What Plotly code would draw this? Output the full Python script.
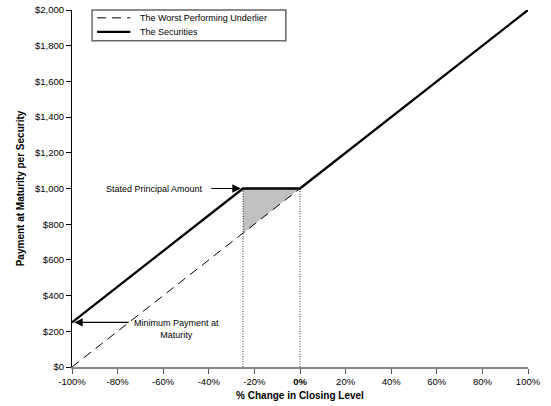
import plotly.graph_objects as go

# payoff diagram data
underlier_x = [-100, 100]
underlier_y = [0, 2000]
securities_x = [-100, -25, 0, 100]
securities_y = [250, 1000, 1000, 2000]
shade_x = [-25, 0, -25, -25]
shade_y = [1000, 1000, 750, 1000]
barrier_x = [-25, 0]
x_ticks = [-100, -80, -60, -40, -20, 0, 20, 40, 60, 80, 100]
x_labels = ["-100%", "-80%", "-60%", "-40%", "-20%", "<b>0%</b>", "20%", "40%", "60%", "80%", "100%"]
y_ticks = [0, 200, 400, 600, 800, 1000, 1200, 1400, 1600, 1800, 2000]
y_labels = ["$" + format(v, ",") for v in y_ticks]
legend_names = ["The Worst Performing Underlier", "The Securities"]

font = "Liberation Sans, Arial, sans-serif"

fig = go.Figure()

fig.add_trace(go.Scatter(x=shade_x, y=shade_y, fill="toself", fillcolor="#c0c0c0",
                         line=dict(width=0), mode="lines", hoverinfo="skip"))

for bx in barrier_x:
    fig.add_trace(go.Scatter(x=[bx, bx], y=[0, 1000], mode="lines",
                             line=dict(color="black", width=0.8, dash="1px,1.5px"),
                             hoverinfo="skip"))

fig.add_trace(go.Scatter(x=underlier_x, y=underlier_y, mode="lines",
                         name=legend_names[0],
                         line=dict(color="black", width=1, dash="9px,6px")))
fig.add_trace(go.Scatter(x=securities_x, y=securities_y, mode="lines",
                         name=legend_names[1],
                         line=dict(color="black", width=2.3)))

# hand-drawn legend box
fig.add_shape(type="rect", xref="paper", yref="paper", x0=0.044, x1=0.469, y0=0.914, y1=1.0,
              line=dict(color="#666666", width=1.5), fillcolor="white", layer="above")
fig.add_shape(type="line", xref="paper", yref="paper", x0=0.055, x1=0.128, y0=0.978, y1=0.978,
              line=dict(color="black", width=1, dash="9px,6px"))
fig.add_shape(type="line", xref="paper", yref="paper", x0=0.055, x1=0.128, y0=0.939, y1=0.939,
              line=dict(color="black", width=2.3))
fig.add_annotation(xref="paper", yref="paper", x=0.145, y=0.978, text=legend_names[0],
                   showarrow=False, xanchor="left", yanchor="middle", font=dict(size=9))
fig.add_annotation(xref="paper", yref="paper", x=0.145, y=0.939, text=legend_names[1],
                   showarrow=False, xanchor="left", yanchor="middle", font=dict(size=9))

# annotations
fig.add_annotation(x=-41.5, y=1000, text="Stated Principal Amount", showarrow=False,
                   xanchor="right", yanchor="middle", font=dict(size=9, color="black"))
fig.add_annotation(x=-26, y=1000, ax=-39.5, ay=1000, axref="x", ayref="y",
                   text="", showarrow=True, arrowhead=2, arrowsize=1.4, arrowwidth=1.2,
                   arrowcolor="black")
fig.add_annotation(x=-54, y=285, text="Minimum Payment at<br>Maturity", showarrow=False,
                   xanchor="center", yanchor="top", font=dict(size=9, color="black"))
fig.add_annotation(x=-99, y=250, ax=-74.5, ay=250, axref="x", ayref="y",
                   text="", showarrow=True, arrowhead=2, arrowsize=1.4, arrowwidth=1.2,
                   arrowcolor="black")

fig.update_layout(
    width=551, height=406,
    margin=dict(l=72, r=23, t=10, b=39),
    plot_bgcolor="white", paper_bgcolor="white",
    showlegend=False,
    font=dict(family=font, size=9.5, color="black"),
    xaxis=dict(range=[-100, 100], tickvals=x_ticks, ticktext=x_labels, automargin=False,
               showgrid=False, zeroline=False, showline=True,
               linecolor="#888888", linewidth=1.5, ticks="outside",
               tickcolor="#555555", ticklen=5,
               title=dict(text="<b>% Change in Closing Level</b>", font=dict(size=10), standoff=6)),
    yaxis=dict(range=[0, 2000], tickvals=y_ticks, ticktext=y_labels, automargin=False,
               showgrid=False, zeroline=False, showline=True,
               linecolor="black", linewidth=1.2, ticks="outside",
               tickcolor="black", ticklen=5,
               title=dict(text="<b>Payment at Maturity per Security</b>", font=dict(size=10), standoff=8)),
)

# drop the default page margin so the figure sits at the window corner
fig.write_html("out.html", config={"displayModeBar": False},
               post_script="document.body.style.margin = '0';")
